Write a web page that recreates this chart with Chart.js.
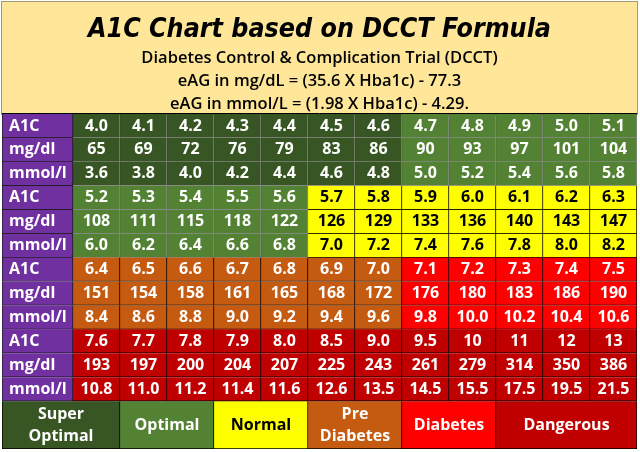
<!DOCTYPE html>
<html>
<head>
<meta charset="utf-8">
<script src="https://cdn.jsdelivr.net/npm/chart.js@4.4.1/dist/chart.umd.min.js"></script>
<style>
  html, body { margin: 0; padding: 0; background: #fff; }
  #wrap { width: 640px; height: 452px; }
</style>
</head>
<body>
<div id="wrap"><canvas id="chart" width="640" height="452"></canvas></div>
<script>
// A1C -> eAG table, four blocks of 12 columns
const a1cBlocks = [
  [4.0, 4.1, 4.2, 4.3, 4.4, 4.5, 4.6, 4.7, 4.8, 4.9, 5.0, 5.1],
  [5.2, 5.3, 5.4, 5.5, 5.6, 5.7, 5.8, 5.9, 6.0, 6.1, 6.2, 6.3],
  [6.4, 6.5, 6.6, 6.7, 6.8, 6.9, 7.0, 7.1, 7.2, 7.3, 7.4, 7.5],
  [7.6, 7.7, 7.8, 7.9, 8.0, 8.5, 9.0, 9.5, 10, 11, 12, 13]
];
const mgdlBlocks = [
  [65, 69, 72, 76, 79, 83, 86, 90, 93, 97, 101, 104],
  [108, 111, 115, 118, 122, 126, 129, 133, 136, 140, 143, 147],
  [151, 154, 158, 161, 165, 168, 172, 176, 180, 183, 186, 190],
  [193, 197, 200, 204, 207, 225, 243, 261, 279, 314, 350, 386]
];
const mmolBlocks = [
  [3.6, 3.8, 4.0, 4.2, 4.4, 4.6, 4.8, 5.0, 5.2, 5.4, 5.6, 5.8],
  [6.0, 6.2, 6.4, 6.6, 6.8, 7.0, 7.2, 7.4, 7.6, 7.8, 8.0, 8.2],
  [8.4, 8.6, 8.8, 9.0, 9.2, 9.4, 9.6, 9.8, 10.0, 10.2, 10.4, 10.6],
  [10.8, 11.0, 11.2, 11.4, 11.6, 12.6, 13.5, 14.5, 15.5, 17.5, 19.5, 21.5]
];
const rowNames = ['A1C', 'mg/dl', 'mmol/l'];

// zones: an A1C value belongs to the first zone whose upper bound it is below
const zoneNames = ['Super\nOptimal', 'Optimal', 'Normal', 'Pre\nDiabetes', 'Diabetes', 'Dangerous'];
const zoneUpper = [4.7, 5.7, 6.4, 7.1, 7.6, Infinity];
const zoneColors = ['#375623', '#548235', '#FFFF00', '#C55A11', '#FF0000', '#C00000'];
const zoneTextColors = ['#FFFFFF', '#FFFFFF', '#000000', '#FFFFFF', '#FFFFFF', '#FFFFFF'];
// legend strip: columns covered by each zone (-1 = the row-name column)
const legendFrom = [-1, 1, 3, 5, 7, 9];
const legendTo = [1, 3, 5, 7, 9, 12];

const headerTitle = 'A1C Chart based on DCCT Formula';
const headerLines = [
  'Diabetes Control & Complication Trial (DCCT)',
  'eAG in mg/dL = (35.6 X Hba1c) - 77.3',
  'eAG in mmol/L = (1.98 X Hba1c) - 4.29.'
];

const NCOL = a1cBlocks[0].length;
const NROW = a1cBlocks.length * rowNames.length;
const XMIN = -71 / 47; // name column is wider than a value column

const yLabels = [];
a1cBlocks.forEach(() => rowNames.forEach(n => yLabels.push(n)));
yLabels.push('zone-a', 'zone-b'); // legend strip takes two rows

const zoneOf = v => zoneUpper.findIndex(u => v < u);
const fmtA1c = v => v >= 10 ? String(v) : v.toFixed(1);

function cellText(r, c) {
  const b = Math.floor(r / 3), k = r % 3;
  if (k === 0) return fmtA1c(a1cBlocks[b][c]);
  if (k === 1) return String(mgdlBlocks[b][c]);
  return mmolBlocks[b][c].toFixed(1);
}
const cellZone = (r, c) => zoneOf(a1cBlocks[Math.floor(r / 3)][c]);

const common = {
  grouped: false,
  barPercentage: 1,
  categoryPercentage: 1,
  borderSkipped: false
};

const datasets = [];

// row-name column
datasets.push({
  ...common,
  data: yLabels.map((_, r) => r < NROW ? [XMIN, 0] : null),
  backgroundColor: '#7030A0',
  borderColor: '#1a1a1a',
  borderWidth: { top: 0, right: 1, bottom: 1, left: 1 },
  texts: yLabels.map((n, r) => r < NROW ? n : null),
  textColors: yLabels.map(() => '#FFFFFF'),
  textAlign: 'left'
});

// value columns
for (let c = 0; c < NCOL; c++) {
  const zones = yLabels.map((_, r) => r < NROW ? cellZone(r, c) : 0);
  datasets.push({
    ...common,
    data: yLabels.map((_, r) => r < NROW ? [c, c + 1] : null),
    backgroundColor: zones.map(z => zoneColors[z]),
    borderColor: zones.map(z => z < 2 ? 'rgba(0,0,0,0.45)' : '#000000'),
    borderWidth: { top: 0, right: 1, bottom: 1, left: 0 },
    texts: yLabels.map((_, r) => r < NROW ? cellText(r, c) : null),
    textColors: zones.map(z => zoneTextColors[z]),
    textAlign: 'center'
  });
}

// legend strip
zoneNames.forEach((name, z) => {
  const from = legendFrom[z] < 0 ? XMIN : legendFrom[z];
  datasets.push({
    ...common,
    data: yLabels.map((_, r) => r >= NROW ? [from, legendTo[z]] : null),
    backgroundColor: zoneColors[z],
    borderColor: '#000000',
    borderWidth: ctx => ({
      top: 0, right: 1,
      bottom: ctx.dataIndex === NROW ? 0 : 1,
      left: z === 0 ? 1 : 0
    }),
    texts: yLabels.map((_, r) => r === NROW ? name : null),
    textColors: yLabels.map(() => zoneTextColors[z]),
    textAlign: 'center',
    spanRows: 2
  });
});

const headerPlugin = {
  id: 'header',
  beforeDraw(chart) {
    const { ctx, chartArea: a } = chart;
    const top = 2;
    ctx.save();
    ctx.fillStyle = '#FFE699';
    ctx.fillRect(a.left, top, a.right - a.left, a.top - top);
    ctx.strokeStyle = '#A09A70';
    ctx.lineWidth = 1;
    ctx.strokeRect(a.left - 0.5, top - 0.5, a.right - a.left + 1, a.top - top + 1);
    ctx.strokeStyle = '#000';
    ctx.beginPath();
    ctx.moveTo(a.left, a.top - 0.5);
    ctx.lineTo(a.right, a.top - 0.5);
    ctx.stroke();

    const cx = (a.left + a.right) / 2;
    ctx.fillStyle = '#000';
    ctx.textAlign = 'center';
    ctx.textBaseline = 'alphabetic';
    ctx.font = 'italic bold 27px "DejaVu Sans"';
    ctx.fillText(headerTitle, cx, 37, 463);
    ctx.font = '600 16.5px "Open Sans"';
    const widths = [362, 292, 308];
    headerLines.forEach((line, i) => {
      ctx.fillText(line, cx, 63 + i * 23, widths[i]);
    });
    ctx.restore();
  }
};

const labelPlugin = {
  id: 'cellLabels',
  afterDatasetsDraw(chart) {
    const ctx = chart.ctx;
    ctx.save();
    ctx.font = 'bold 16px "Open Sans"';
    ctx.textBaseline = 'middle';
    chart.data.datasets.forEach((ds, i) => {
      const meta = chart.getDatasetMeta(i);
      meta.data.forEach((bar, r) => {
        const t = ds.texts[r];
        if (t == null) return;
        const p = bar.getCenterPoint();
        let y = p.y;
        if (ds.spanRows) y = (p.y + meta.data[r + 1].getCenterPoint().y) / 2;
        ctx.fillStyle = ds.textColors[r];
        ctx.textAlign = ds.textAlign;
        const x = ds.textAlign === 'left' ? Math.min(bar.x, bar.base) + 7 : p.x;
        const lines = t.split('\n');
        lines.forEach((ln, j) => {
          ctx.fillText(ln, x, y + (j - (lines.length - 1) / 2) * 22);
        });
      });
    });
    ctx.restore();
  }
};

new Chart(document.getElementById('chart'), {
  type: 'bar',
  data: { labels: yLabels, datasets },
  options: {
    indexAxis: 'y',
    responsive: false,
    animation: false,
    events: [],
    layout: { padding: { top: 114, left: 2, right: 3, bottom: 3 } },
    scales: {
      x: { type: 'linear', min: XMIN, max: NCOL, display: false },
      y: { type: 'category', display: false }
    },
    plugins: {
      legend: { display: false },
      tooltip: { enabled: false }
    }
  },
  plugins: [headerPlugin, labelPlugin]
});
</script>
</body>
</html>
